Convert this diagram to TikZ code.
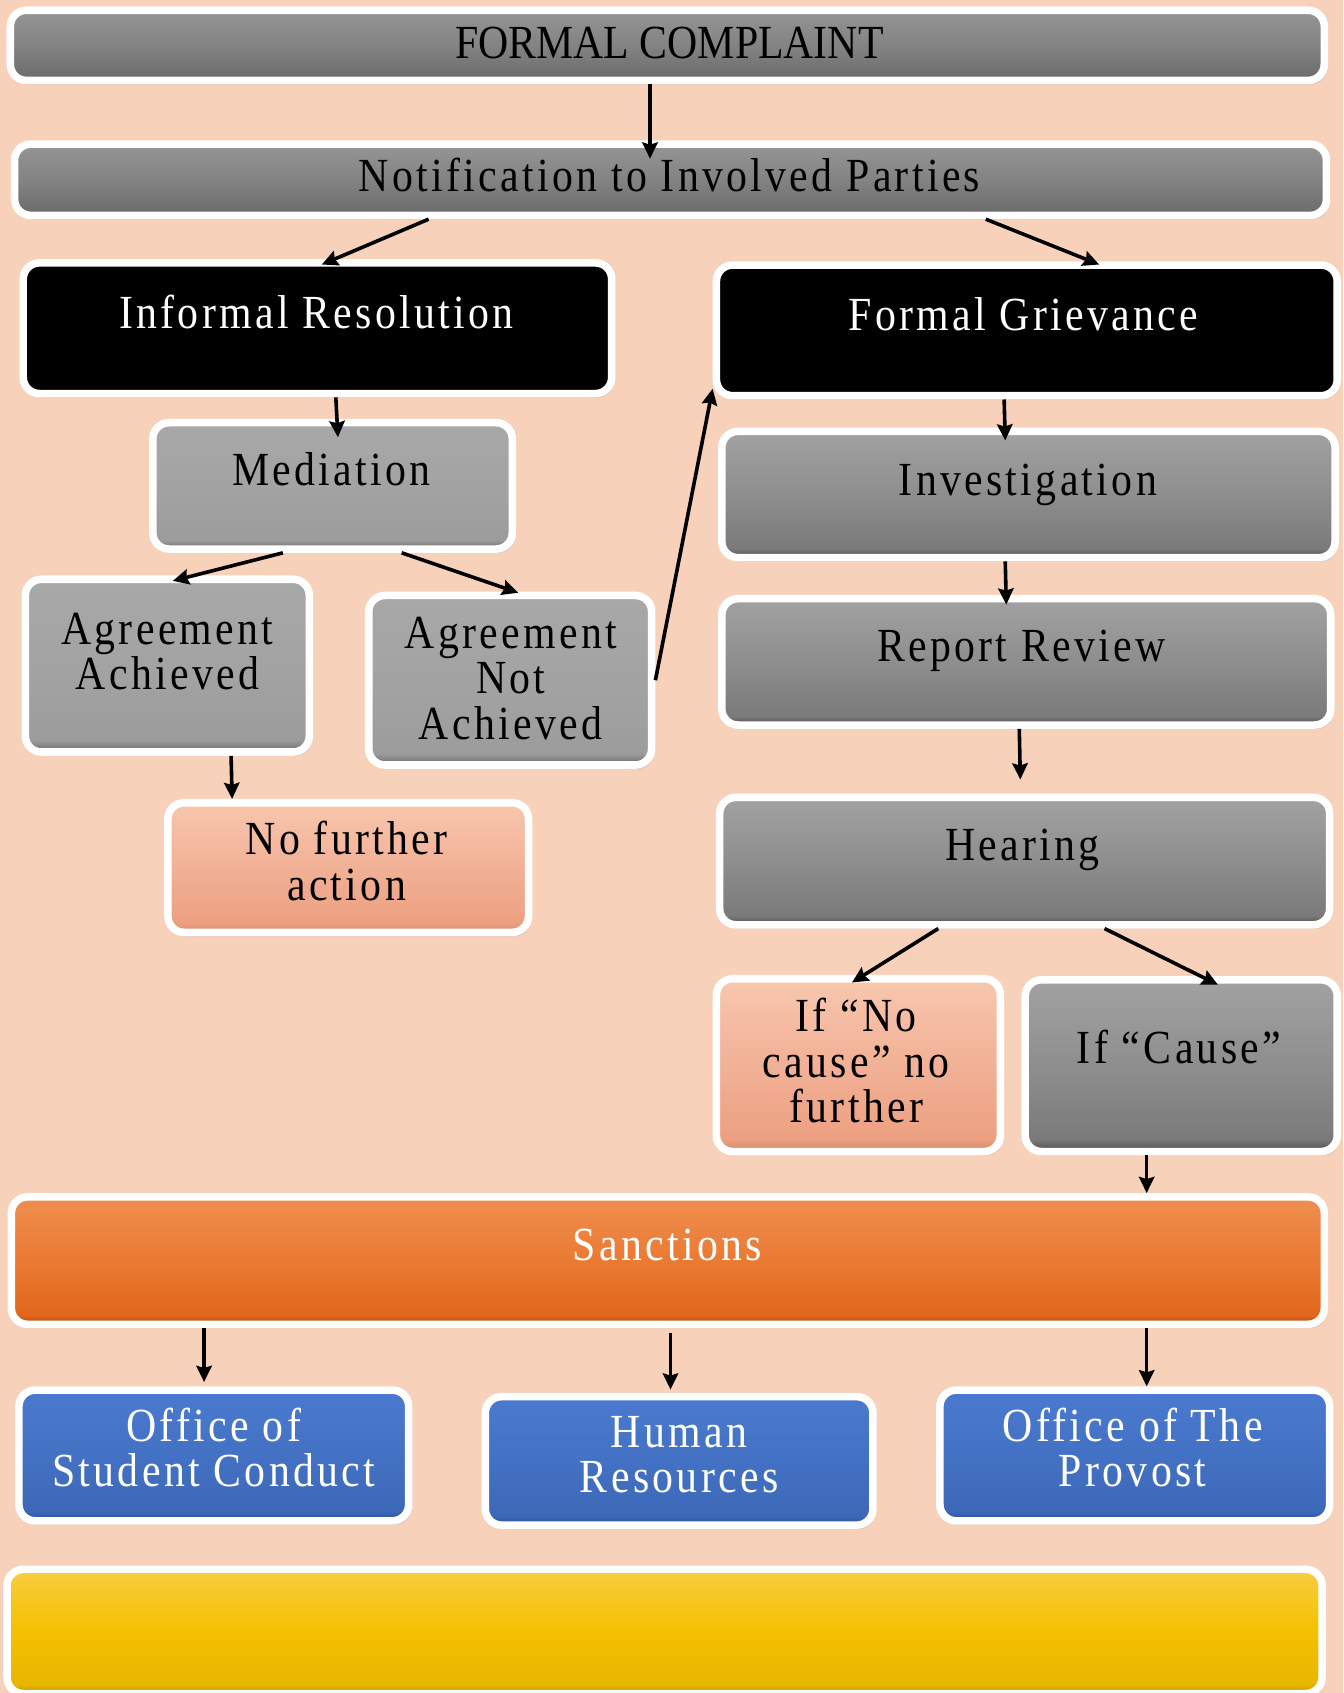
\documentclass[tikz,border=0pt]{standalone}
\usepackage{fontspec}
\setmainfont{Liberation Serif}[LetterSpace=7,FakeStretch=0.88]
\newfontfamily\capsfont{Liberation Serif}[FakeStretch=0.88]
\usetikzlibrary{arrows.meta,calc,fit,shadows}

\definecolor{bgpeach}{HTML}{F7D1B9}
% edge / bottom / middle / top colours of each box family
\definecolor{gdA}{HTML}{4E4E4E}\definecolor{gdB}{HTML}{6E6E6E}\definecolor{gdC}{HTML}{838383}\definecolor{gdD}{HTML}{959595}
\definecolor{glA}{HTML}{7A7A7A}\definecolor{glB}{HTML}{9C9C9C}\definecolor{glC}{HTML}{A3A3A3}\definecolor{glD}{HTML}{A8A8A8}
\definecolor{gmA}{HTML}{5A5A5A}\definecolor{gmB}{HTML}{7A7A7A}\definecolor{gmC}{HTML}{8E8E8E}\definecolor{gmD}{HTML}{A2A2A2}
\definecolor{saA}{HTML}{D9906F}\definecolor{saB}{HTML}{EDA081}\definecolor{saC}{HTML}{F1B196}\definecolor{saD}{HTML}{F8C7AE}
\definecolor{orA}{HTML}{B85314}\definecolor{orB}{HTML}{E2661B}\definecolor{orC}{HTML}{EA7A33}\definecolor{orD}{HTML}{EF8E50}
\definecolor{blA}{HTML}{2F569A}\definecolor{blB}{HTML}{3D68B8}\definecolor{blC}{HTML}{4371C3}\definecolor{blD}{HTML}{4A7AD0}
\definecolor{yeA}{HTML}{C89C00}\definecolor{yeB}{HTML}{E8B600}\definecolor{yeC}{HTML}{F5C000}\definecolor{yeD}{HTML}{F9CD42}

% bevelled vertical shading: dark rim at the bottom, light at the top
\newcommand\defbevel[5]{\pgfdeclareverticalshading{#1}{100bp}{%
  color(0bp)=(#2); color(26bp)=(#2); color(28.5bp)=(#3); color(50bp)=(#4);
  color(75bp)=(#5); color(100bp)=(#5)}}
\defbevel{bvgdark}{gdA}{gdB}{gdC}{gdD}
\defbevel{bvglight}{glA}{glB}{glC}{glD}
\defbevel{bvgmid}{gmA}{gmB}{gmC}{gmD}
\defbevel{bvsalmon}{saA}{saB}{saC}{saD}
\defbevel{bvorange}{orA}{orB}{orC}{orD}
\defbevel{bvblue}{blA}{blB}{blC}{blD}
\defbevel{bvyellow}{yeA}{yeB}{yeC}{yeD}

% box from its outer corners (white rim included)
\newcommand\mkbox[6]{\node[#1,fit={(#3+3.5,#4+3.5) (#5-3.5,#6-3.5)}] (#2) {};}
% line strut
\newcommand\sx{\rule[-0.22em]{0pt}{0.92em}}

\begin{document}
\begin{tikzpicture}[x=0.6pt,y=-0.6pt,
  box/.style={draw=white, line width=4.2pt, rounded corners=9pt, inner sep=0pt,
    drop shadow={opacity=0.25, shadow xshift=1.2pt, shadow yshift=-2.2pt}},
  gdark/.style={box, shade, shading=bvgdark},
  glight/.style={box, shade, shading=bvglight},
  gmid/.style={box, shade, shading=bvgmid},
  salmon/.style={box, shade, shading=bvsalmon},
  orange/.style={box, shade, shading=bvorange},
  blue/.style={box, shade, shading=bvblue},
  yellow/.style={box, shade, shading=bvyellow},
  blackbox/.style={box, fill=black},
  lbl/.style={align=center, inner sep=0pt, text=black,
    font=\fontsize{26.4pt}{25.2pt}\selectfont},
  lblw/.style={lbl, text=white},
  arr/.style={line width=2pt, -{Stealth[length=9pt,width=8.5pt,inset=1.2pt]}}
]
\fill[bgpeach] (0,0) rectangle (1244,1568);
\useasboundingbox (0,0) rectangle (1244,1568);

% boxes
\mkbox{gdark}{fc}{6}{6}{1230}{78}
\mkbox{gdark}{notif}{10}{130}{1232}{203}
\mkbox{blackbox}{inf}{18}{240}{570}{368}
\mkbox{blackbox}{fg}{660}{242}{1242}{370}
\mkbox{glight}{med}{138}{388}{478}{512}
\mkbox{gmid}{inv}{665}{396}{1240}{520}
\mkbox{glight}{agach}{20}{533}{290}{700}
\mkbox{glight}{agnot}{338}{548}{607}{712}
\mkbox{gmid}{rr}{665}{551}{1236}{675}
\mkbox{salmon}{nfa}{152}{740}{493}{867}
\mkbox{gmid}{hear}{663}{735}{1235}{860}
\mkbox{salmon}{noc}{660}{903}{930}{1070}
\mkbox{gmid}{cause}{946}{904}{1242}{1070}
\mkbox{orange}{sanc}{7}{1105}{1230}{1230}
\mkbox{blue}{osc}{14}{1284}{382}{1412}
\mkbox{blue}{hr}{446}{1290}{812}{1416}
\mkbox{blue}{prov}{867}{1284}{1235}{1412}
\mkbox{yellow}{yel}{3}{1450}{1228}{1572}

% labels
\node[lbl, font=\capsfont\fontsize{26.4pt}{25.2pt}\selectfont] (fc-t) at (620,44) {\sx FORMAL COMPLAINT};
\node[lbl] (notif-t) at (620,167) {\sx Notification to Involved Parties};
\node[lblw] (inf-t) at (293,294) {\sx Informal Resolution};
\node[lblw] (fg-t) at (948,296) {\sx Formal Grievance};
\node[lbl] (med-t) at (307,439) {\sx Mediation};
\node[lbl] (inv-t) at (952,448) {\sx Investigation};
\node[lbl] (agach-t) at (155,607) {\sx Agreement\\\sx Achieved};
\node[lbl] (agnot-t) at (473,632) {\sx Agreement\\\sx Not\\\sx Achieved};
\node[lbl] (rr-t) at (946,602) {\sx Report Review};
\node[lbl] (nfa-t) at (321,802) {\sx No further\\\sx action};
\node[lbl] (hear-t) at (947,786) {\sx Hearing};
\node[lbl] (noc-t) at (793,987) {\sx If “No\\\sx cause” no\\\sx further};
\node[lbl] (cause-t) at (1092,974) {\sx If “Cause”};
\node[lblw] (sanc-t) at (618,1157) {\sx Sanctions};
\node[lblw] (osc-t) at (198,1345) {\sx Office of\\\sx Student Conduct};
\node[lblw] (hr-t) at (629,1351) {\sx Human\\\sx Resources};
\node[lblw] (prov-t) at (1049,1345) {\sx Office of The\\\sx Provost};

% connectors
\draw[arr] (fc.south -| 602,0) -- ($(notif.north -| 602,0)+(0,17)$);
\draw[arr] (notif.south -| 397,0) -- ($(inf.north -| 298,0)+(0,5)$);
\draw[arr] (notif.south -| 913,0) -- ($(fg.north -| 1018,0)+(0,3)$);
\draw[arr] (inf.south -| 311,0) -- ($(med.north -| 313,0)+(0,17)$);
\draw[arr] (fg.south -| 930,0) -- ($(inv.north -| 931,0)+(0,12)$);
\draw[arr] (med.south -| 262,0) -- ($(agach.north -| 160,0)+(0,5)$);
\draw[arr] (med.south -| 372,0) -- ($(agnot.north -| 480,0)+(0,1)$);
\draw[arr] (agnot.east |- 0,630) -- (fg.west |- 0,360);
\draw[arr] (inv.south -| 931,0) -- ($(rr.north -| 932,0)+(0,9)$);
\draw[arr] (rr.south -| 944,0) -- ($(hear.north -| 945,0)+(0,-13)$);
\draw[arr] (agach.south -| 214,0) -- (nfa.north -| 215,0);
\draw[arr] (hear.south -| 869,0) -- ($(noc.north -| 789,0)+(0,7)$);
\draw[arr] (hear.south -| 1023,0) -- ($(cause.north -| 1128,0)+(0,8)$);
\draw[arr] (cause.south -| 1062,0) -- (sanc.north -| 1062,0);
\draw[arr] (sanc.south -| 189,0) -- ($(osc.north -| 189,0)+(0,-4)$);
\draw[arr] ($(sanc.south -| 621,0)+(0,5)$) -- ($(hr.north -| 621,0)+(0,-3)$);
\draw[arr] (sanc.south -| 1062,0) -- (prov.north -| 1062,0);
\end{tikzpicture}
\end{document}
